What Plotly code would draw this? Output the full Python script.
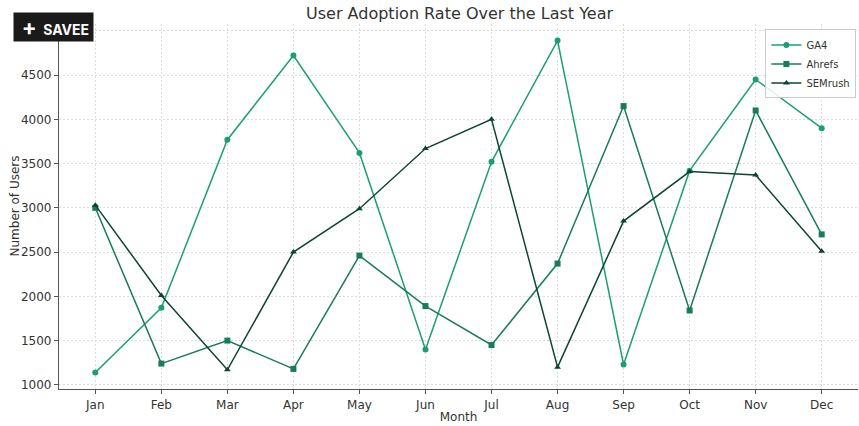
import plotly.graph_objects as go

months = ["Jan", "Feb", "Mar", "Apr", "May", "Jun", "Jul", "Aug", "Sep", "Oct", "Nov", "Dec"]
ga4 = [1140, 1870, 3770, 4720, 3620, 1400, 3520, 4890, 1230, 3420, 4450, 3900]
ahrefs = [3000, 1240, 1500, 1180, 2460, 1890, 1450, 2370, 4150, 1840, 4100, 2700]
semrush = [3030, 2010, 1170, 2500, 2990, 3670, 4000, 1200, 2850, 3410, 3370, 2510]
y_ticks = [1000, 1500, 2000, 2500, 3000, 3500, 4000, 4500, 5000]

FONT = "DejaVu Sans"
fig = go.Figure()
xs = list(range(len(months)))
for name, vals, color, sym in [
    ("GA4", ga4, "#1b9e77", "circle"),
    ("Ahrefs", ahrefs, "#1a7a5c", "square"),
    ("SEMrush", semrush, "#0c4632", "triangle-up"),
]:
    fig.add_trace(go.Scatter(
        x=xs, y=vals, name=name, mode="lines+markers",
        line=dict(color=color, width=1.5),
        marker=dict(symbol=sym, size=6, color=color),
    ))

grid = dict(showgrid=True, gridcolor="#dcdcdc", griddash="2px,2px", gridwidth=0.8)
fig.update_layout(
    width=859, height=426,
    margin=dict(l=59, r=1, t=24, b=37),
    paper_bgcolor="white", plot_bgcolor="white",
    font=dict(family=FONT, color="#333333", size=12),
    title=dict(text="User Adoption Rate Over the Last Year", x=0.535, xanchor="center",
               y=1 - 13 / 426, yanchor="middle", font=dict(size=16, family=FONT, color="#333333")),
    xaxis=dict(
        range=[-0.55, 11.55], tickmode="array", tickvals=xs, ticktext=months,
        ticks="outside", ticklen=4, tickcolor="#555555", automargin=False,
        showline=True, linecolor="#555555", linewidth=1.2, zeroline=False,
        title=dict(text="Month", font=dict(size=12), standoff=2),
        tickfont=dict(size=12), **grid,
    ),
    yaxis=dict(
        range=[953, 5077], tickmode="array", tickvals=y_ticks,
        ticks="outside", ticklen=4, tickcolor="#555555", automargin=False,
        showline=True, linecolor="#555555", linewidth=1.2, zeroline=False,
        tickfont=dict(size=12), **grid,
    ),
    legend=dict(x=0.998, y=0.985, xanchor="right", yanchor="top",
                bgcolor="rgba(255,255,255,0.85)", bordercolor="#cccccc", borderwidth=1,
                font=dict(size=10, family=FONT), tracegroupgap=0, itemwidth=30),
    showlegend=True,
)
# y-axis title placed precisely
fig.add_annotation(
    xref="paper", yref="paper", x=(14 - 59) / 799, y=0.5, xanchor="center", yanchor="middle",
    text="Number of Users", textangle=-90, showarrow=False,
    font=dict(size=12, family=FONT, color="#333333"),
)
fig.add_annotation(
    xref="paper", yref="paper", x=(13 - 59) / 799, y=1.0, yshift=12, xanchor="left", yanchor="top",
    text="<b>&nbsp;&nbsp;<span style='font-size:22px'>+</span>&nbsp;&nbsp;SAVEE&nbsp;</b>",
    showarrow=False,
    bgcolor="#1a1a1a", font=dict(color="white", size=14, family="Inter"), borderpad=1,
)
fig.write_html("out.html", post_script="document.body.style.margin='0';",
               config={"displayModeBar": False})
